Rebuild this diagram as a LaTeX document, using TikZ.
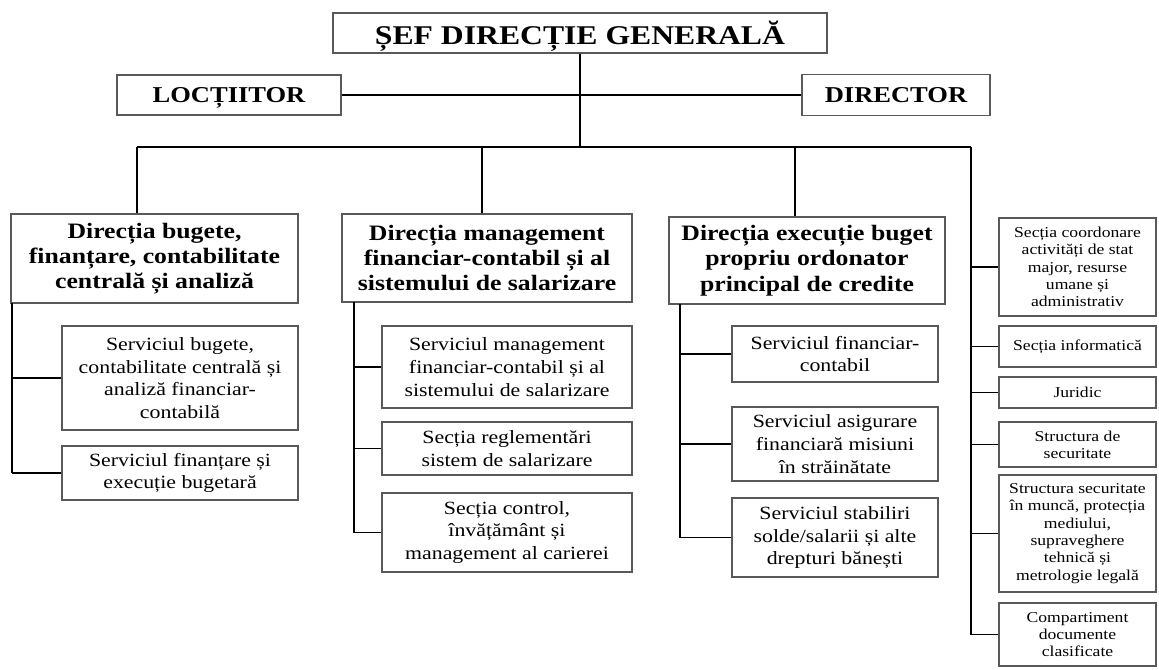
\documentclass[tikz,border=0pt]{standalone}
\usepackage{fontspec}
\setmainfont{Liberation Serif}[FakeStretch=1.17]

\begin{document}
\begin{tikzpicture}[x=0.75pt, y=-0.75pt,
    wh/.style 2 args={minimum width=#1*0.75pt, minimum height=#2*0.75pt},
    box/.style={draw=black!65, line width=0.9pt, inner sep=0pt, align=center},
    chief/.style={box, text depth=0pt, font=\bfseries\fontsize{20.3}{24}\selectfont},
    deputy/.style={box, text depth=0pt, font=\bfseries\fontsize{17}{20}\selectfont},
    dept/.style={box, font=\bfseries\fontsize{16.5}{19}\selectfont},
    unit/.style={box, font=\fontsize{14}{17}\selectfont},
    small/.style={box, font=\fontsize{11.3}{13}\selectfont},
    link/.style={line width=1.4pt}]
    \useasboundingbox (0,0) rectangle (1159,669);

    \node[chief, wh={494}{40}] (sef) at (580,33) {ȘEF DIRECȚIE GENERALĂ};
    \node[deputy, wh={224}{40}] (loc) at (229,95) {LOCȚIITOR};
    \node[deputy, wh={188}{41}] (dir) at (896,95) {DIRECTOR};

    \node[dept, wh={287}{89}] (d1) at (154.5,258.5) {Direcția bugete,\\finanțare, contabilitate\\centrală și analiză};
    \node[dept, wh={290}{88}] (d2) at (487,258) {Direcția management\\financiar-contabil și al\\sistemului de salarizare};
    \node[dept, wh={276}{87}] (d3) at (807,260.5) {Direcția execuție buget\\propriu ordonator\\principal de credite};

    \node[unit, wh={236}{104}] (s1a) at (180,378) {Serviciul bugete,\\contabilitate centrală și\\analiză financiar-\\contabilă};
    \node[unit, wh={236}{54}] (s1b) at (180,473) {Serviciul finanțare și\\execuție bugetară};

    \node[unit, wh={250}{82}] (s2a) at (507,367) {Serviciul management\\financiar-contabil și al\\sistemului de salarizare};
    \node[unit, wh={250}{53}] (s2b) at (507,448.5) {Secția reglementări\\sistem de salarizare};
    \node[unit, wh={250}{79}] (s2c) at (507,532.5) {Secția control,\\învățământ și\\management al carierei};

    \node[unit, wh={206}{56}] (s3a) at (835,354) {Serviciul financiar-\\contabil};
    \node[unit, wh={206}{74}] (s3b) at (835,444) {Serviciul asigurare\\financiară misiuni\\în străinătate};
    \node[unit, wh={206}{79}] (s3c) at (835,537.5) {Serviciul stabiliri\\solde/salarii și alte\\drepturi bănești};

    \node[small, wh={157}{98}] (r1) at (1077.5,267) {Secția coordonare\\activități de stat\\major, resurse\\umane și\\administrativ};
    \node[small, wh={157}{41}] (r2) at (1077.5,346.5) {Secția informatică};
    \node[small, wh={157}{31}] (r3) at (1077.5,392.5) {Juridic};
    \node[small, wh={157}{45}] (r4) at (1077.5,444.5) {Structura de\\securitate};
    \node[small, wh={157}{117}] (r5) at (1077.5,533.5) {Structura securitate\\în muncă, protecția\\mediului,\\supraveghere\\tehnică și\\metrologie legală};
    \node[small, wh={157}{63}] (r6) at (1077.5,634.5) {Compartiment\\documente\\clasificate};

    \coordinate (bus) at (580,147);
    \coordinate (bus1) at (137,147);
    \coordinate (bus2) at (482,147);
    \coordinate (bus3) at (795,147);
    \coordinate (bus4) at (971,147);
    \coordinate (sp1) at (12,303);
    \coordinate (sp2) at (354,302);
    \coordinate (sp3) at (680,304);

    \draw[link] (loc.east) -- (dir.west);
    \draw[link] (sef.south) -- (bus);
    \draw[link] (bus1) -- (bus4);
    \draw[link] (bus1) -- (bus1 |- d1.north);
    \draw[link] (bus2) -- (bus2 |- d2.north);
    \draw[link] (bus3) -- (bus3 |- d3.north);

    \draw[link] (sp1) -- (sp1 |- s1b.west);
    \foreach \n in {s1a,s1b}
        \draw[link] (sp1 |- \n.west) -- (\n.west);
    \draw[link] (sp2) -- (sp2 |- s2c.west);
    \foreach \n in {s2a,s2b,s2c}
        \draw[link] (sp2 |- \n.west) -- (\n.west);
    \draw[link] (sp3) -- (sp3 |- s3c.west);
    \foreach \n in {s3a,s3b,s3c}
        \draw[link] (sp3 |- \n.west) -- (\n.west);
    \draw[link] (bus4) -- (bus4 |- r6.west);
    \foreach \n in {r1,r2,r3,r4,r5,r6}
        \draw[link] (bus4 |- \n.west) -- (\n.west);
\end{tikzpicture}
\end{document}
